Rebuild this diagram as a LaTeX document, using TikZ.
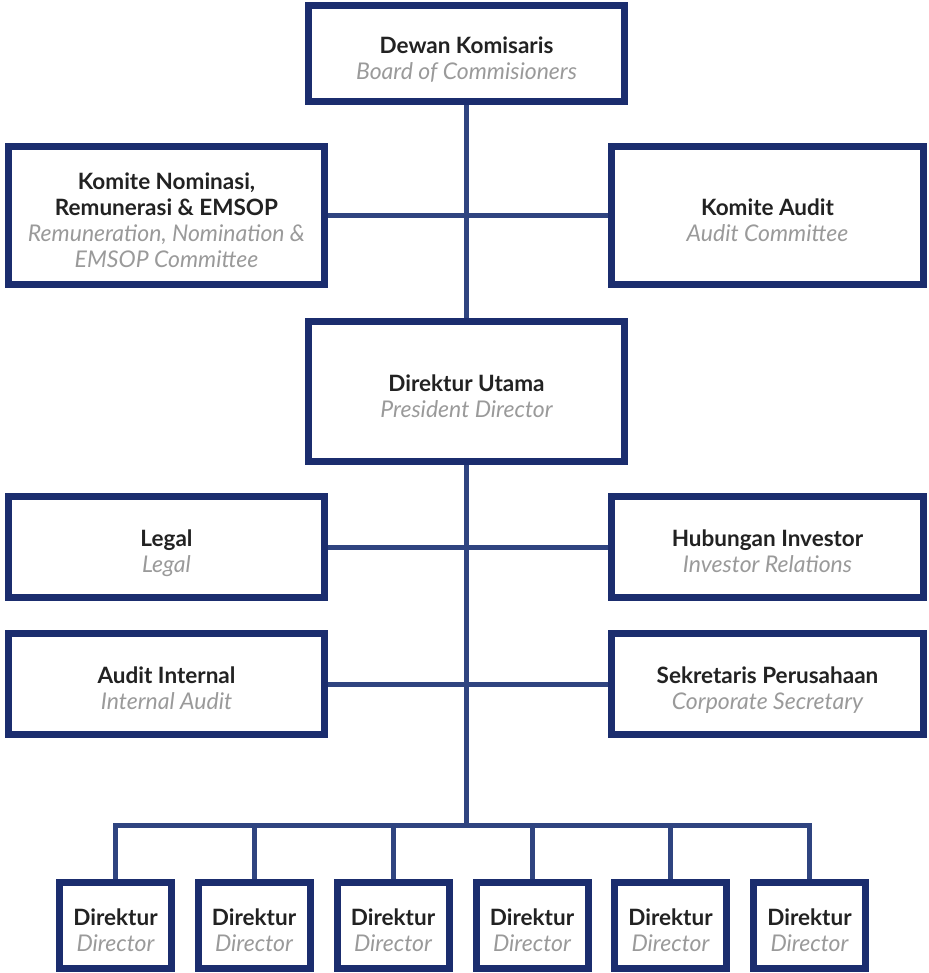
\documentclass[tikz,border=0pt]{standalone}
\usepackage{fontspec}
\usepackage{calc}
\setmainfont{Lato}
\usetikzlibrary{backgrounds}
\definecolor{boxc}{HTML}{1B2D6E}
\definecolor{linec}{HTML}{2F4480}
\definecolor{txt}{HTML}{222222}
\definecolor{sub}{HTML}{9A9A9A}
\tikzset{
  orgbox/.style={draw=boxc, line width=7pt, fill=white, inner sep=0pt,
    font=\fontsize{22.5}{26}\selectfont},
  conn/.style={draw=linec, line width=5pt, line join=miter},
}
\newcommand{\bl}[1]{\textcolor{txt}{\bfseries #1}}
\newcommand{\il}[1]{\textcolor{sub}{\fontsize{23}{26}\selectfont\itshape #1}}
\newcommand{\tb}[1]{\raisebox{0pt}[\height+15pt][\depth]{\begin{tabular}{@{}c@{}}#1\end{tabular}}}
\newcommand{\lbl}[2]{\tb{\bl{#1}\\\il{#2}}}
\begin{document}
\begin{tikzpicture}[x=1pt,y=-1pt]
\useasboundingbox (0,0) rectangle (928,973);
\node[orgbox, minimum width=316, minimum height=96] (dk) at (466.5,53.5) {\lbl{Dewan Komisaris}{Board of Commisioners}};
\node[orgbox, minimum width=316, minimum height=138] (kn) at (166.5,215.5) {\tb{\bl{Komite Nominasi,}\\\bl{Remunerasi \& EMSOP}\\\il{Remuneration, Nomination \&}\\\il{EMSOP Committee}}};
\node[orgbox, minimum width=312, minimum height=138] (ka) at (767.5,215.5) {\lbl{Komite Audit}{Audit Committee}};
\node[orgbox, minimum width=316, minimum height=140] (du) at (466.5,391.5) {\lbl{Direktur Utama}{President Director}};
\node[orgbox, minimum width=316, minimum height=101] (lg) at (166.5,547) {\lbl{Legal}{Legal}};
\node[orgbox, minimum width=312, minimum height=101] (hi) at (767.5,547) {\lbl{Hubungan Investor}{Investor Relations}};
\node[orgbox, minimum width=316, minimum height=101] (ai) at (166.5,684) {\lbl{Audit Internal}{Internal Audit}};
\node[orgbox, minimum width=312, minimum height=101] (sp) at (767.5,684) {\lbl{Sekretaris Perusahaan}{Corporate Secretary}};
\foreach \i/\x in {1/115.5,2/254,3/393,4/532,5/670.5,6/809.5}{
  \node[orgbox, minimum width=112, minimum height=86] (d\i) at (\x,925.5) {\lbl{Direktur}{Director}};
}
\coordinate (bus) at (466.5,825);
\begin{scope}[on background layer]
  \draw[conn] (dk.south) -- (du.north);
  \draw[conn] (kn.east) -- (ka.west);
  \draw[conn] (du.south) -- (bus);
  \draw[conn] (lg.east) -- (hi.west);
  \draw[conn] (ai.east) -- (sp.west);
  \draw[conn] (d1.north) -- (d1.north |- bus) -- (d6.north |- bus) -- (d6.north);
  \foreach \i in {2,3,4,5}{ \draw[conn] (d\i.north) -- (d\i.north |- bus); }
\end{scope}
\end{tikzpicture}
\end{document}
